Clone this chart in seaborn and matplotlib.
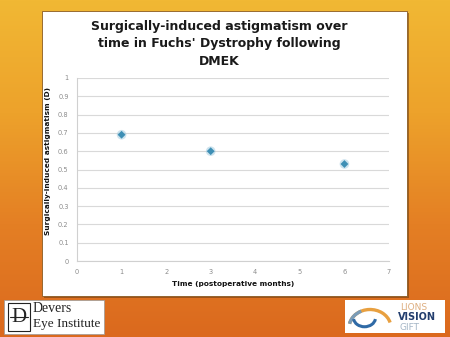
import numpy as np
import pandas as pd
import matplotlib
matplotlib.use("Agg")
import matplotlib.pyplot as plt
import seaborn as sns
from matplotlib.patches import Rectangle, Arc
from matplotlib.colors import LinearSegmentedColormap

# Data
months = [1, 3, 6]
sia = [0.69, 0.60, 0.53]
x_ticks = [0, 1, 2, 3, 4, 5, 6, 7]
y_ticks = [0, 0.1, 0.2, 0.3, 0.4, 0.5, 0.6, 0.7, 0.8, 0.9, 1]
y_tick_labels = ["0", "0.1", "0.2", "0.3", "0.4", "0.5", "0.6", "0.7", "0.8", "0.9", "1"]
title = "Surgically-induced astigmatism over\ntime in Fuchs' Dystrophy following\nDMEK"
x_label = "Time (postoperative months)"
y_label = "Surgically-induced astigmatism (D)"

df = pd.DataFrame({"month": months, "sia": sia})

sns.set_theme(style="white")
plt.rcParams["font.family"] = ["DejaVu Sans"]

W, H = 450, 337
fig = plt.figure(figsize=(W / 100, H / 100), dpi=100)

# Slide background: warm yellow-to-orange gradient
bg = fig.add_axes([0, 0, 1, 1], zorder=0)
grad = np.linspace(0, 1, 256).reshape(-1, 1)
cmap = LinearSegmentedColormap.from_list(
    "slide", ["#F1B834", "#EDA22B", "#E47F24", "#DB691E"])
bg.imshow(grad, aspect="auto", cmap=cmap, extent=[0, 1, 0, 1], origin="upper")
bg.set_xlim(0, 1)
bg.set_ylim(0, 1)
bg.axis("off")

def fx(px):
    return px / W

def fy(py):
    return 1 - py / H

# White content panel with a soft dark shadow
px0, py0, px1, py1 = 42, 11, 407, 296
bg.add_patch(Rectangle((fx(px0 + 2), fy(py1 + 2)), fx(px1 - px0), (py1 - py0) / H,
                       facecolor="#6B3A10", edgecolor="none", alpha=0.55))
bg.add_patch(Rectangle((fx(px0), fy(py1)), fx(px1 - px0), (py1 - py0) / H,
                       facecolor="white", edgecolor="#8A5A20", linewidth=0.6))

# Logo boxes
bg.add_patch(Rectangle((fx(4), fy(334)), fx(100), 34 / H,
                       facecolor="white", edgecolor="#999999", linewidth=0.5))
bg.add_patch(Rectangle((fx(345), fy(333)), fx(100), 33 / H,
                       facecolor="white", edgecolor="none"))

# Devers Eye Institute logo
bg.add_patch(Rectangle((fx(8), fy(331)), fx(22), 28 / H,
                       facecolor="white", edgecolor="#222222", linewidth=0.8))
bg.text(fx(19), fy(317), "D", ha="center", va="center", fontsize=15,
        family="Liberation Serif", color="#222222")
bg.plot([fx(10), fx(28)], [fy(317), fy(317)], color="#222222", lw=0.8)
bg.text(fx(33), fy(308), "Devers", ha="left", va="center", fontsize=10,
        family="Liberation Serif", color="#222222")
bg.text(fx(33), fy(324), "Eye Institute", ha="left", va="center", fontsize=9.5,
        family="Liberation Serif", color="#222222")

# Lions Vision Gift logo
logo = fig.add_axes([fx(348), fy(332), fx(44), 30 / H], zorder=3)
logo.set_xlim(-1, 1)
logo.set_ylim(-1, 1)
logo.axis("off")
logo.add_patch(Arc((0.0, -0.7), 1.9, 2.4, theta1=20, theta2=165,
                   color="#E8A040", lw=2.4))
logo.add_patch(Arc((0.0, -0.7), 1.9, 2.4, theta1=110, theta2=165,
                   color="#7A9CB8", lw=2.4))
logo.add_patch(Arc((-0.25, -0.05), 1.0, 1.2, theta1=190, theta2=350,
                   color="#2F6AA6", lw=2.2))
bg.text(fx(400), fy(307), "LIONS", ha="left", va="center", fontsize=6.5,
        color="#DDAE80")
bg.text(fx(398), fy(317), "VISION", ha="left", va="center", fontsize=7,
        fontweight="bold", color="#233E6E")
bg.text(fx(400), fy(327), "GIFT", ha="left", va="center", fontsize=6.5,
        color="#A5B6C6")

# Chart
ax = fig.add_axes([fx(77), fy(261), fx(389 - 77), (261 - 78) / H], zorder=2)
ax.patch.set_alpha(0)
sns.scatterplot(data=df, x="month", y="sia", ax=ax, s=48, color="#9CC8DE",
                edgecolor="none", alpha=0.5, zorder=3, legend=False)
sns.scatterplot(data=df, x="month", y="sia", ax=ax, s=16, marker="D",
                color="#3E8FB5", edgecolor="none", zorder=4, legend=False)
ax.set_xlim(0, 7)
ax.set_ylim(0, 1)
ax.set_xticks(x_ticks)
ax.set_yticks(y_ticks)
ax.set_yticklabels(y_tick_labels)
ax.grid(axis="y", color="#D9D9D9", linewidth=0.8)
ax.grid(axis="x", visible=False)
for side in ["top", "right"]:
    ax.spines[side].set_visible(False)
for side in ["left", "bottom"]:
    ax.spines[side].set_color("#D0D0D0")
    ax.spines[side].set_linewidth(0.8)
ax.tick_params(axis="both", length=0, labelsize=4.8, colors="#8C8C8C", pad=6)
ax.set_xlabel(x_label, fontsize=5.3, fontweight="bold", color="#111111", labelpad=4)
ax.set_ylabel(y_label, fontsize=5.3, fontweight="bold", color="#111111")
ax.yaxis.set_label_coords(-0.082, 0.545)

fig.text(fx(219), fy(44), title, ha="center", va="center", fontsize=9.0,
         fontweight="bold", color="#1A1A1A", linespacing=1.45, zorder=4)

fig.savefig("out.png", dpi=100)
